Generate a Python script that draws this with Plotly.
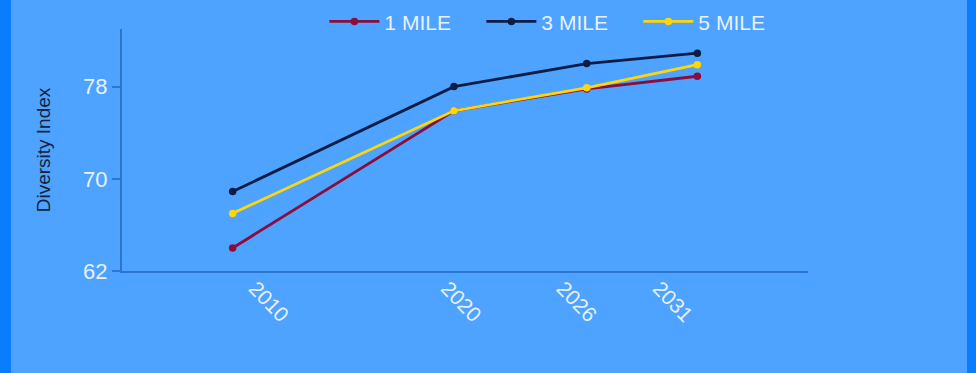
import plotly.graph_objects as go

# Diversity index by distance ring
years = [2010, 2020, 2026, 2031]
year_labels = ["2010", "2020", "2026", "2031"]
mile_1 = [64.0, 75.9, 77.8, 78.9]
mile_3 = [68.9, 78.0, 80.0, 80.9]
mile_5 = [67.0, 75.9, 77.9, 79.9]

series_names = ["1 MILE", "3 MILE", "5 MILE"]
series_colors = ["#8B0D3A", "#0B1D45", "#FFD60A"]

y_ticks = [62, 70, 78]

BG = "#4DA3FF"
EDGE = "#0A7DFF"
TEXT = "#E8F1FF"
AXIS = "#2C75CC"
FONT = "Liberation Sans, Arial, sans-serif"

PW, PH = 686, 241.7  # plot area size in px

fig = go.Figure()
for name, vals, col in zip(series_names, [mile_1, mile_3, mile_5], series_colors):
    fig.add_trace(go.Scatter(
        x=years, y=vals, name=name, mode="lines+markers",
        line=dict(color=col, width=2.8),
        marker=dict(color=col, size=7.5),
        xaxis="x", yaxis="y",
    ))

# invisible trace carrying the year labels on an overlaid axis
fig.add_trace(go.Scatter(
    x=years, y=[None] * len(years), xaxis="x2", yaxis="y",
    showlegend=False, hoverinfo="skip", mode="lines",
))

fig.update_layout(
    width=976, height=373,
    margin=dict(l=122, r=168, t=29, b=102, autoexpand=False),
    paper_bgcolor=BG, plot_bgcolor=BG,
    font=dict(family=FONT, color=TEXT),
    showlegend=True,
    legend=dict(
        orientation="h", x=0.295, xanchor="left", y=1.03, yanchor="middle",
        font=dict(size=21, color=TEXT, family=FONT),
        bgcolor="rgba(0,0,0,0)", itemwidth=50,
        entrywidth=92, entrywidthmode="pixels",
    ),
    xaxis=dict(
        range=[2005, 2036], showgrid=False, zeroline=False,
        showline=True, linecolor=AXIS, linewidth=2,
        showticklabels=False, ticks="",
    ),
    xaxis2=dict(
        overlaying="x", anchor="y", side="bottom",
        range=[2003.09, 2038.74], showgrid=False, zeroline=False,
        showline=False, tickmode="array", tickvals=years, ticktext=year_labels,
        tickangle=46, tickfont=dict(size=21, color=TEXT, family=FONT), ticks="",
    ),
    yaxis=dict(
        range=[62, 83], showgrid=False, zeroline=False,
        showline=True, linecolor=AXIS, linewidth=2,
        tickmode="array", tickvals=y_ticks,
        ticks="outside", ticklen=8, tickcolor=AXIS, tickwidth=1.5,
        tickfont=dict(size=22, color=TEXT, family=FONT),
        title=dict(text="Diversity Index", font=dict(size=19, color="#15213A", family=FONT), standoff=27),
    ),
    shapes=[
        dict(type="rect", xref="paper", yref="paper",
             x0=-122 / PW, x1=-111 / PW, y0=-102 / PH, y1=1 + 29 / PH,
             fillcolor=EDGE, line=dict(width=0), layer="below"),
        dict(type="rect", xref="paper", yref="paper",
             x0=1 + 159 / PW, x1=1 + 168 / PW, y0=-102 / PH, y1=1 + 29 / PH,
             fillcolor=EDGE, line=dict(width=0), layer="below"),
    ],
)

fig.write_html("out.html")
